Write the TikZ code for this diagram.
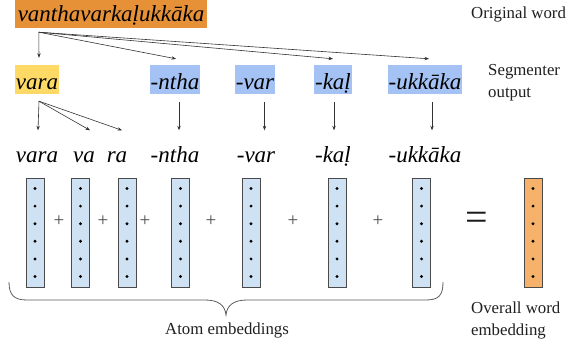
\documentclass[tikz,border=0pt]{standalone}
\usepackage{fontspec}
\setmainfont{Liberation Serif}
\usetikzlibrary{arrows.meta,calc}

\definecolor{wordorange}{HTML}{E69138}
\definecolor{segyellow}{HTML}{FFD966}
\definecolor{segblue}{HTML}{A4C2F4}
\definecolor{atomblue}{HTML}{CFE2F3}
\definecolor{sumorange}{HTML}{F6B26B}
\definecolor{bardraw}{HTML}{4A4A4A}
\definecolor{linkgray}{HTML}{333333}

\begin{document}
\begin{tikzpicture}[x=1pt,y=-1pt,
  wordbox/.style={font=\fontsize{23}{26}\selectfont\itshape, text height=22pt, text depth=6pt, inner xsep=2.7pt, inner ysep=0pt},
  segbox/.style={font=\fontsize{23}{26}\selectfont\itshape, text height=24pt, text depth=5pt, inner xsep=1pt, inner ysep=0pt},
  atomtext/.style={font=\fontsize{23}{26}\selectfont\itshape, text height=24pt, text depth=5pt, inner sep=0pt},
  vecbar/.style={draw=bardraw, fill=atomblue, line width=0.8pt, minimum width=18pt, minimum height=109pt, inner sep=0pt},
  plusop/.style={font=\fontsize{19}{22}\selectfont, inner sep=0pt, text=bardraw},
  plainlabel/.style={font=\fontsize{16.8}{20}\selectfont, inner sep=0pt, text=black!88},
  link/.style={draw=linkgray, line width=0.6pt, -{Stealth[length=4.5pt,width=3.4pt]}},
  bracestroke/.style={draw=bardraw!90, line width=0.8pt}
]
\useasboundingbox (0,0) rectangle (569,342);

% original word
\node[wordbox, fill=wordorange, minimum width=192pt] (orig) at (111,14) {vanthavarkaḷukkāka};

% segmenter output
\node[segbox, fill=segyellow] (vara) at (37,79.5) {vara};
\node[segbox, fill=segblue] (ntha) at (175,79.5) {-ntha};
\node[segbox, fill=segblue] (var) at (255,79.5) {-var};
\node[segbox, fill=segblue] (kal) at (333,79.5) {-kaḷ};
\node[segbox, fill=segblue] (ukk) at (425,79.5) {-ukkāka};

% atoms
\node[atomtext] (tvara) at (37,153) {vara};
\node[atomtext] (tva) at (84,153) {va};
\node[atomtext] (tra) at (117,153) {ra};
\node[atomtext] (tntha) at (175,153) {-ntha};
\node[atomtext] (tvar) at (256,153) {-var};
\node[atomtext] (tkal) at (333,153) {-kaḷ};
\node[atomtext] (tukk) at (425,153) {-ukkāka};

% word -> segments
\coordinate (fork) at ($(orig.south west)+(24,4)$);
\draw[link] (fork) -- ($(vara.north)+(2,-7)$);
\draw[link] (fork) -- ($(ntha.north)+(1,-6)$);
\draw[link] (fork) -- ($(kal.north)+(0,-6)$);
\draw[link] (fork) -- ($(ukk.north)+(4,-6)$);

% segments -> atoms
\coordinate (fork2) at ($(vara.south)+(2,7)$);
\draw[link] (fork2) -- ($(tvara.north)+(1,-8)$);
\draw[link] (fork2) -- ($(tva.north)+(6,-8)$);
\draw[link] (fork2) -- ($(tra.north)+(5,-8)$);
\draw[link] ($(ntha.south)+(4,8)$) -- ($(tntha.north)+(4,-8)$);
\draw[link] ($(var.south)+(9.5,8)$) -- ($(tvar.north)+(8.5,-8)$);
\draw[link] ($(kal.south)+(1,8)$) -- ($(tkal.north)+(1,-8)$);
\draw[link] ($(ukk.south)+(7,8)$) -- ($(tukk.north)+(7,-8)$);

% embedding vectors
\node[vecbar] (b1) at (35,232.5) {};
\node[vecbar] (b2) at (80.5,232.5) {};
\node[vecbar] (b3) at (127,232.5) {};
\node[vecbar] (b4) at (180.5,232.5) {};
\node[vecbar] (b5) at (251,232.5) {};
\node[vecbar] (b6) at (337,232.5) {};
\node[vecbar] (b7) at (421.5,232.5) {};
\node[vecbar, fill=sumorange] (bsum) at (533,232.5) {};
\foreach \b in {b1,b2,b3,b4,b5,b6,b7,bsum}{
  \foreach \k in {0,...,5}{
    \fill ($(\b.center)+(0,{(\k-2.5)*17.6})$) circle (1.6pt);
  }
}

% operators
\node[plusop] (p1) at (59,221) {+};
\node[plusop] (p2) at (103,221) {+};
\node[plusop] (p3) at (145,221) {+};
\node[plusop] (p4) at (211,221) {+};
\node[plusop] (p5) at (293,221) {+};
\node[plusop] (p6) at (378,221) {+};
\node[font=\fontsize{40}{40}\selectfont, inner sep=0pt, text=black!90] (eq) at (477,221) {=};

% brace under the atom vectors
\draw[bracestroke] (9,282) .. controls (9,295) and (14,300) .. (27,300)
  -- (205,300) .. controls (218,300) and (225,305) .. (226,315)
  .. controls (227,305) and (234,300) .. (247,300)
  -- (426,300) .. controls (439,300) and (443,295) .. (443,282);

% labels
\node[plainlabel, anchor=base west] (lorig) at (471,19) {Original word};
\node[plainlabel, anchor=base west] (lseg) at (488,76) {Segmenter};
\node[plainlabel, anchor=base west] (lout) at (488,98) {output};
\node[plainlabel, anchor=base] (latom) at (227,334) {Atom embeddings};
\node[plainlabel, anchor=base west] (lover) at (471,313) {Overall word};
\node[plainlabel, anchor=base west] (lemb) at (471,335) {embedding};
\end{tikzpicture}
\end{document}
